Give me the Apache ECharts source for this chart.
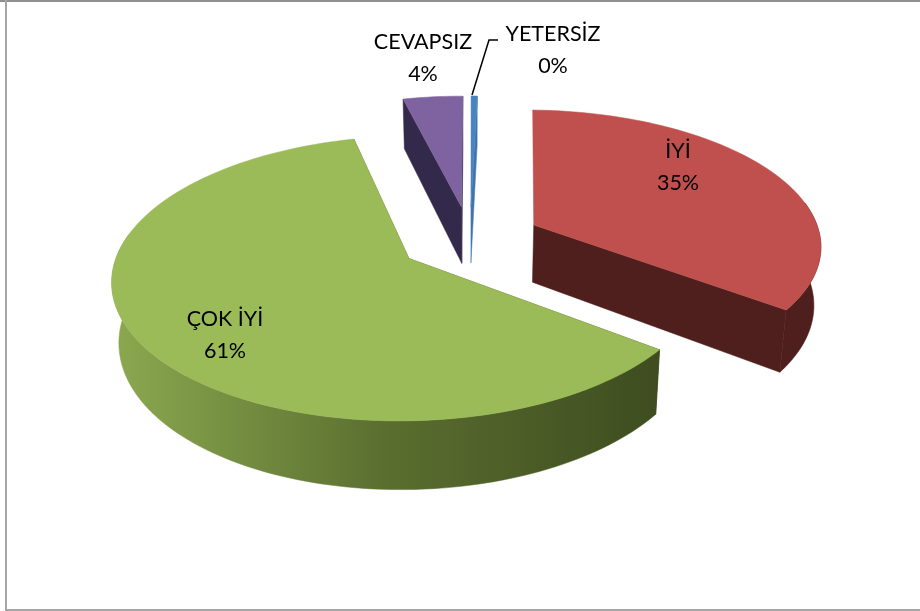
<!DOCTYPE html>
<html><head><meta charset="utf-8">
<style>html,body{margin:0;padding:0;background:#fff}#c{width:920px;height:611px}</style>
<script src="https://cdn.jsdelivr.net/npm/echarts@6/dist/echarts.min.js"></script>
</head><body><div id="c"></div>
<script>
const categories = ['İYİ', 'ÇOK İYİ', 'CEVAPSIZ', 'YETERSİZ'];
const shares = [34.8, 60.9, 3.9, 0.4];

const topColors = ['#bf504d', '#9bbb59', '#7f63a1', '#4a84c0'];
const greenWall = [[0, '#8ba950'], [0.5, '#5a6e2f'], [1, '#3e4c1f']];
const wallColors = ['#4e1f1d', null, '#33294b', '#3f74ad'];
const labelAnchors = [[678, 167], [225, 335], [423, 58], [553, 50]];

// projection of the tilted disc
const V = {cx: 470, cy: 239.5, rx: 287.5, ry: 134.5, depth: 58, persp: 0.137, explode: 0.25, start: 1.5, shrink: 0.02,
  rimFrom: 80, rimTo: 280};
const total = shares.reduce((a, b) => a + b, 0);
const rad = d => d * Math.PI / 180;
function project(X, Y, z) {
  const w = 1 - V.persp * Y;
  const s = 1 - V.shrink * z / V.depth;
  return [V.cx + s * V.rx * X / w, V.cy + (V.ry * Y + z) / w];
}
function renderSlice(params, api) {
  const i = params.dataIndex;
  const before = shares.slice(0, i).reduce((a, b) => a + b, 0);
  const a0 = V.start + before / total * 360;
  const a1 = a0 + api.value(0) / total * 360;
  const mid = rad((a0 + a1) / 2);
  const ox = V.explode * Math.sin(mid), oy = -V.explode * Math.cos(mid);
  const at = (deg, z) => project(ox + Math.sin(rad(deg)), oy - Math.cos(rad(deg)), z);
  const arc = (from, to, z) => {
    const pts = [], n = Math.max(2, Math.ceil((to - from) / 1.5));
    for (let k = 0; k <= n; k++) pts.push(at(from + (to - from) * k / n, z));
    return pts;
  };
  const apexTop = project(ox, oy, 0), apexBot = project(ox, oy, V.depth);
  const wallFill = wallColors[i] || {
    type: 'linear', x: 112, y: 0, x2: 660, y2: 0, global: true,
    colorStops: greenWall.map(s => ({offset: s[0], color: s[1]}))
  };
  const face = pts => ({type: 'polygon', silent: true, shape: {points: pts},
    style: {fill: wallFill, stroke: wallFill, lineWidth: 0.5}});
  const lab = labelAnchors[i];
  const children = [];
  // a cut face seen edge-on would only leave a dark sliver beside the top
  if (Math.abs(at(a0, 0)[0] - apexTop[0]) > 3) children.push(face([apexTop, at(a0, 0), at(a0, V.depth), apexBot]));
  children.push(face([apexTop, at(a1, 0), at(a1, V.depth), apexBot]));
  // only the part of the rim that faces the viewer
  const r0 = Math.max(a0, V.rimFrom), r1 = Math.min(a1, V.rimTo);
  if (r1 > r0) children.push(face(arc(r0, r1, 0).concat(arc(r0, r1, V.depth).reverse())));
  children.push(
    {type: 'polygon', silent: true, shape: {points: [apexTop].concat(arc(a0, a1, 0))},
      style: {fill: topColors[i], stroke: topColors[i], lineWidth: 0.5}},
    {type: 'text', silent: true, z2: 10, x: lab[0], y: lab[1], style: {
      text: categories[i] + '\n' + Math.round(api.value(0)) + '%',
      font: '21.5px Lato', fill: '#000', align: 'center', verticalAlign: 'middle', lineHeight: 32.5}}
  );
  return {type: 'group', children};
}
const chart = echarts.init(document.getElementById('c'), null, {renderer: 'canvas'});
chart.setOption({
  animation: false,
  backgroundColor: '#ffffff',
  graphic: [
    {type: 'rect', silent: true, shape: {x: 0, y: 0, width: 920, height: 2}, style: {fill: '#8f8f8f'}},
    {type: 'rect', silent: true, shape: {x: 5, y: 0, width: 2, height: 611}, style: {fill: '#a6a6a6'}},
    {type: 'rect', silent: true, shape: {x: 5, y: 609, width: 915, height: 2}, style: {fill: '#a6a6a6'}},
    {type: 'polyline', silent: true, shape: {points: [[472, 95], [489, 40], [498, 40]]},
      style: {stroke: '#000', lineWidth: 1.5, fill: 'none'}}
  ],
  series: [{type: 'custom', coordinateSystem: 'none', renderItem: renderSlice, data: shares.map(v => [v]), silent: true}]
});
</script></body></html>
